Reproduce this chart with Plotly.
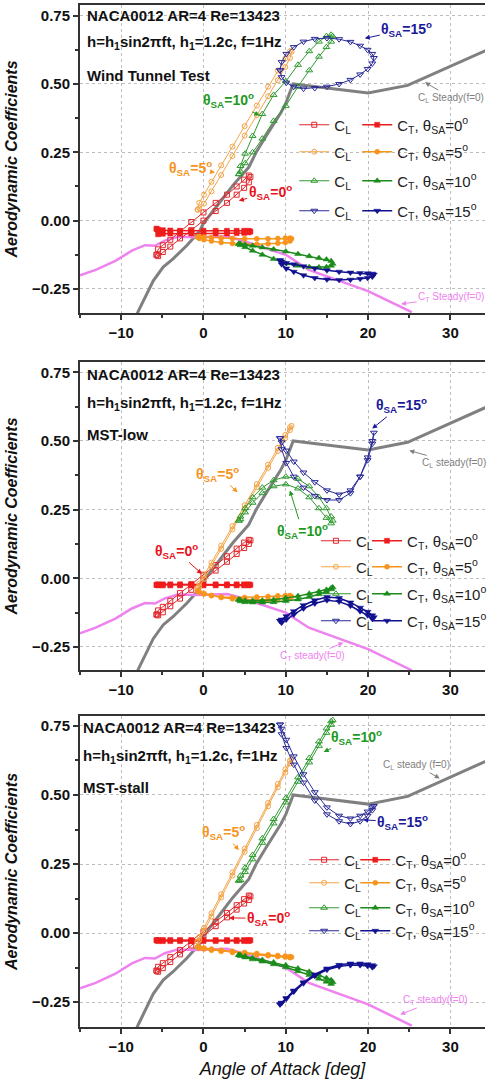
import plotly.graph_objects as go

FONT = "Liberation Sans, Arial, Helvetica, sans-serif"

# ---------------- data ----------------
# effective angle of attack samples over one plunging cycle, per static angle
aoa_0 = [-5.70, -5.51, -4.94, -4.03, -2.85, -1.48, 0.00, 1.48, 2.85, 4.03, 4.94, 5.51, 5.70,
         5.51, 4.94, 4.03, 2.85, 1.48, 0.00, -1.48, -2.85, -4.03, -4.94, -5.51, -5.70]
aoa_5 = [-0.70, -0.51, 0.06, 0.97, 2.15, 3.52, 5.00, 6.48, 7.85, 9.03, 9.94, 10.51, 10.70,
         10.51, 9.94, 9.03, 7.85, 6.48, 5.00, 3.52, 2.15, 0.97, 0.06, -0.51, -0.70]
aoa_10 = [4.30, 4.49, 5.06, 5.97, 7.15, 8.52, 10.00, 11.48, 12.85, 14.03, 14.94, 15.51, 15.70,
          15.51, 14.94, 14.03, 12.85, 11.48, 10.00, 8.52, 7.15, 5.97, 5.06, 4.49, 4.30]
aoa_15 = [9.30, 9.49, 10.06, 10.97, 12.15, 13.52, 15.00, 16.48, 17.85, 19.03, 19.94, 20.51, 20.70,
          20.51, 19.94, 19.03, 17.85, 16.48, 15.00, 13.52, 12.15, 10.97, 10.06, 9.49, 9.30]

# Panel 1: Wind Tunnel Test
cl_wt_0 = [-0.125, -0.105, -0.090, -0.070, -0.040, -0.005, 0.030, 0.065, 0.095, 0.125, 0.150, 0.165, 0.160,
           0.140, 0.120, 0.095, 0.065, 0.035, 0.000, -0.035, -0.065, -0.095, -0.115, -0.130, -0.125]
ct_wt_0 = [-0.030, -0.033, -0.035, -0.036, -0.037, -0.037, -0.037, -0.037, -0.037, -0.037, -0.037, -0.037, -0.040,
           -0.043, -0.045, -0.046, -0.047, -0.047, -0.047, -0.047, -0.047, -0.047, -0.048, -0.050, -0.030]
cl_wt_5 = [0.040, 0.065, 0.095, 0.142, 0.202, 0.271, 0.346, 0.421, 0.490, 0.549, 0.594, 0.620, 0.618,
           0.595, 0.562, 0.514, 0.455, 0.386, 0.311, 0.236, 0.167, 0.107, 0.062, 0.045, 0.040]
ct_wt_5 = [-0.060, -0.058, -0.060, -0.062, -0.064, -0.065, -0.066, -0.066, -0.066, -0.065, -0.064, -0.064, -0.066,
           -0.075, -0.080, -0.083, -0.085, -0.086, -0.086, -0.084, -0.080, -0.075, -0.070, -0.065, -0.060]
cl_wt_10 = [0.170, 0.200, 0.245, 0.310, 0.390, 0.460, 0.510, 0.570, 0.620, 0.655, 0.675, 0.680, 0.675,
            0.655, 0.635, 0.600, 0.550, 0.490, 0.420, 0.365, 0.300, 0.250, 0.210, 0.180, 0.170]
ct_wt_10 = [-0.085, -0.085, -0.088, -0.092, -0.098, -0.105, -0.113, -0.122, -0.130, -0.137, -0.142, -0.148, -0.158,
            -0.165, -0.170, -0.171, -0.170, -0.165, -0.157, -0.140, -0.125, -0.110, -0.097, -0.090, -0.085]
cl_wt_15 = [0.550, 0.580, 0.610, 0.635, 0.655, 0.665, 0.668, 0.664, 0.654, 0.640, 0.625, 0.610, 0.595,
            0.575, 0.555, 0.535, 0.515, 0.500, 0.490, 0.485, 0.483, 0.490, 0.505, 0.525, 0.550]
ct_wt_15 = [-0.145, -0.150, -0.155, -0.160, -0.167, -0.175, -0.182, -0.187, -0.190, -0.192, -0.193, -0.194, -0.197,
            -0.205, -0.210, -0.213, -0.216, -0.217, -0.215, -0.210, -0.200, -0.187, -0.175, -0.160, -0.145]

# Panel 2: MST-low
cl_low_0 = [-0.132, -0.117, -0.104, -0.082, -0.054, -0.022, 0.013, 0.048, 0.080, 0.108, 0.130, 0.140, 0.138,
            0.125, 0.110, 0.088, 0.060, 0.028, -0.007, -0.042, -0.074, -0.102, -0.124, -0.135, -0.132]
ct_low_0 = [-0.024, -0.022, -0.022, -0.022, -0.022, -0.022, -0.022, -0.022, -0.022, -0.022, -0.022, -0.022, -0.024,
            -0.026, -0.026, -0.026, -0.026, -0.026, -0.026, -0.026, -0.026, -0.026, -0.026, -0.026, -0.024]
cl_low_5 = [-0.035, -0.019, 0.010, 0.057, 0.119, 0.190, 0.266, 0.343, 0.414, 0.475, 0.522, 0.550, 0.555,
            0.540, 0.510, 0.463, 0.402, 0.331, 0.254, 0.178, 0.107, 0.045, -0.002, -0.031, -0.035]
ct_low_5 = [-0.046, -0.050, -0.057, -0.063, -0.068, -0.070, -0.070, -0.068, -0.066, -0.064, -0.063, -0.063, -0.066,
            -0.070, -0.073, -0.076, -0.078, -0.078, -0.077, -0.075, -0.070, -0.063, -0.055, -0.050, -0.046]
cl_low_10 = [0.210, 0.225, 0.255, 0.295, 0.330, 0.357, 0.370, 0.362, 0.335, 0.295, 0.255, 0.225, 0.210,
             0.200, 0.220, 0.255, 0.295, 0.327, 0.342, 0.335, 0.310, 0.275, 0.240, 0.215, 0.210]
ct_low_10 = [-0.078, -0.080, -0.081, -0.082, -0.081, -0.078, -0.072, -0.065, -0.056, -0.048, -0.042, -0.036, -0.033,
             -0.040, -0.050, -0.058, -0.068, -0.077, -0.083, -0.087, -0.088, -0.088, -0.087, -0.084, -0.078]
cl_low_15 = [0.510, 0.495, 0.465, 0.425, 0.385, 0.350, 0.320, 0.305, 0.320, 0.370, 0.430, 0.490, 0.530,
             0.500, 0.440, 0.370, 0.310, 0.285, 0.285, 0.300, 0.330, 0.370, 0.420, 0.470, 0.510]
ct_low_15 = [-0.155, -0.150, -0.138, -0.120, -0.098, -0.080, -0.068, -0.072, -0.088, -0.107, -0.122, -0.135, -0.142,
             -0.148, -0.135, -0.120, -0.100, -0.085, -0.080, -0.092, -0.110, -0.132, -0.150, -0.162, -0.155]

# Panel 3: MST-stall
cl_st_0 = [-0.136, -0.122, -0.109, -0.087, -0.061, -0.029, 0.006, 0.041, 0.073, 0.101, 0.123, 0.136, 0.133,
           0.120, 0.107, 0.085, 0.057, 0.025, -0.010, -0.045, -0.077, -0.105, -0.127, -0.140, -0.136]
ct_st_0 = [-0.026, -0.025, -0.025, -0.025, -0.025, -0.025, -0.025, -0.025, -0.025, -0.025, -0.025, -0.025, -0.026,
           -0.029, -0.029, -0.029, -0.029, -0.029, -0.029, -0.029, -0.029, -0.029, -0.029, -0.029, -0.026]
cl_st_5 = [-0.031, -0.014, 0.019, 0.072, 0.141, 0.220, 0.306, 0.392, 0.471, 0.540, 0.593, 0.624, 0.631,
           0.614, 0.581, 0.528, 0.459, 0.380, 0.294, 0.208, 0.129, 0.060, 0.007, -0.026, -0.031]
ct_st_5 = [-0.050, -0.051, -0.054, -0.058, -0.062, -0.066, -0.070, -0.074, -0.078, -0.081, -0.083, -0.085, -0.087,
           -0.089, -0.087, -0.085, -0.082, -0.078, -0.074, -0.070, -0.066, -0.062, -0.058, -0.054, -0.050]
cl_st_10 = [0.190, 0.208, 0.237, 0.283, 0.343, 0.413, 0.489, 0.564, 0.634, 0.694, 0.741, 0.767, 0.771,
            0.754, 0.725, 0.678, 0.618, 0.548, 0.473, 0.397, 0.327, 0.267, 0.221, 0.192, 0.190]
ct_st_10 = [-0.079, -0.080, -0.084, -0.090, -0.097, -0.106, -0.116, -0.128, -0.140, -0.152, -0.163, -0.170, -0.178,
            -0.184, -0.176, -0.165, -0.152, -0.138, -0.124, -0.113, -0.103, -0.095, -0.088, -0.083, -0.079]
cl_st_15 = [0.755, 0.740, 0.700, 0.640, 0.575, 0.510, 0.455, 0.425, 0.415, 0.425, 0.440, 0.455, 0.460,
            0.445, 0.425, 0.405, 0.395, 0.405, 0.430, 0.480, 0.545, 0.610, 0.670, 0.720, 0.755]
ct_st_15 = [-0.258, -0.252, -0.235, -0.208, -0.178, -0.150, -0.128, -0.115, -0.110, -0.110, -0.113, -0.116, -0.120,
            -0.124, -0.119, -0.116, -0.116, -0.121, -0.133, -0.155, -0.182, -0.212, -0.238, -0.253, -0.258]

# steady (f=0) curves
steady_aoa_cl = [-8.5, -7.9, -6.1, -4.9, -3.7, -2.0, -0.5, 0.0, 1.8, 3.6, 5.5, 6.4, 7.4, 8.5, 9.4,
                 10.0, 10.9, 13.7, 20.0, 24.8, 36.0]
steady_cl = [-0.37, -0.33, -0.22, -0.17, -0.14, -0.09, -0.04, -0.01, 0.06, 0.13, 0.195, 0.25, 0.30, 0.35,
             0.395, 0.43, 0.50, 0.49, 0.467, 0.495, 0.645]
steady_aoa_ct = [-15.0, -13.1, -10.7, -8.7, -7.1, -5.9, -4.7, -3.1, -0.7, 2.9, 4.4, 7.0, 10.0, 12.8,
                 16.0, 20.0, 25.3]
steady_ct = [-0.200, -0.180, -0.147, -0.110, -0.090, -0.092, -0.073, -0.059, -0.061, -0.057, -0.070,
             -0.095, -0.125, -0.180, -0.215, -0.258, -0.335]

theta_labels = ["0", "5", "10", "15"]
x_ticks = [-10, 0, 10, 20, 30]
y_ticks = [-0.25, 0.00, 0.25, 0.50, 0.75]
panel_titles = ["Wind Tunnel Test", "MST-low", "MST-stall"]

# ---------------- styling / layout ----------------
aoa_sets = [aoa_0, aoa_5, aoa_10, aoa_15]
cl_sets = [[cl_wt_0, cl_wt_5, cl_wt_10, cl_wt_15],
           [cl_low_0, cl_low_5, cl_low_10, cl_low_15],
           [cl_st_0, cl_st_5, cl_st_10, cl_st_15]]
ct_sets = [[ct_wt_0, ct_wt_5, ct_wt_10, ct_wt_15],
           [ct_low_0, ct_low_5, ct_low_10, ct_low_15],
           [ct_st_0, ct_st_5, ct_st_10, ct_st_15]]

cl_colors = ["#e0262b", "#f3a447", "#2f9a2f", "#2a2a98"]
ct_colors = ["#ee1c1c", "#f7941d", "#1b8c1b", "#111190"]
ann_colors = ["#e8141c", "#f7941d", "#1e9a1e", "#1a1a9a"]
cl_symbols = ["square-open", "circle-open", "triangle-up-open", "triangle-down-open"]
ct_symbols = ["square", "circle", "triangle-up", "triangle-down"]
cl_sizes = [5, 5, 6, 6]
ct_sizes = [5, 5, 6, 6]
GRAY = "#808080"
PINK = "#ee82ee"

W, H = 492, 1085
PL, PR = 80, 492
PT, PB = 5, 1027
PW, PH = PR - PL, PB - PT

panel_px = [(5, 313), (362, 670), (716, 1027)]
y_ranges = [[-0.338, 0.789], [-0.334, 0.7875], [-0.34, 0.786]]
x_range = [-15, 34.2]

legend_rows_px = [[125, 152, 181, 211], [541, 567, 594, 621], [860, 883, 908, 931]]
legend_cols_px = [[298, 362], [320, 372], [308, 360]]

text_lines_px = [[16, 43, 75], [375, 404, 435], [727, 756, 787]]
text_left_px = [85, 85, 81]

fig = go.Figure()
layout_updates = {}
annotations = []

def ax_names(p):
    if p == 0:
        return "x", "y", "xaxis", "yaxis"
    return f"x{p+1}", f"y{p+1}", f"xaxis{p+1}", f"yaxis{p+1}"

leg_n = 0
for p in range(3):
    xa, ya, xk, yk = ax_names(p)
    # steady curves
    fig.add_trace(go.Scatter(x=steady_aoa_cl, y=steady_cl, mode="lines",
                             line=dict(color=GRAY, width=3), showlegend=False,
                             xaxis=xa, yaxis=ya, hoverinfo="skip"))
    fig.add_trace(go.Scatter(x=steady_aoa_ct, y=steady_ct, mode="lines",
                             line=dict(color=PINK, width=2.5), showlegend=False,
                             xaxis=xa, yaxis=ya, hoverinfo="skip"))
    for k in range(4):
        for kind in ("CL", "CT"):
            leg_n += 1
            lname = "legend" if leg_n == 1 else f"legend{leg_n}"
            if kind == "CL":
                yv = cl_sets[p][k]
                name = "C<sub>L</sub>"
                col = cl_colors[k]
                mk = dict(symbol=cl_symbols[k], size=cl_sizes[k], color=col, line=dict(width=1, color=col))
                ln = dict(color=col, width=1)
                cx = legend_cols_px[p][0]
            else:
                yv = ct_sets[p][k]
                name = f"C<sub>T</sub>, θ<sub>SA</sub>={theta_labels[k]}<sup>o</sup>"
                col = ct_colors[k]
                mk = dict(symbol=ct_symbols[k], size=ct_sizes[k], color=col, line=dict(width=0.5, color=col))
                ln = dict(color=col, width=1.5)
                cx = legend_cols_px[p][1]
            fig.add_trace(go.Scatter(x=aoa_sets[k], y=yv, mode="lines+markers",
                                     line=ln, marker=mk, name=name, legend=lname,
                                     xaxis=xa, yaxis=ya))
            layout_updates[lname] = dict(
                x=(cx - PL) / PW, y=(PB - legend_rows_px[p][k]) / PH,
                xanchor="left", yanchor="middle", bgcolor="rgba(0,0,0,0)",
                borderwidth=0, font=dict(family=FONT, size=15, color="#222"),
                itemwidth=30, tracegroupgap=0)

    top_px, bot_px = panel_px[p]
    dom = [(PB - bot_px) / PH, (PB - top_px) / PH]
    layout_updates[xk] = dict(
        domain=[0, 1], anchor=ya, range=x_range, tickmode="array", tickvals=x_ticks,
        ticks="outside", ticklen=5, tickwidth=1.5, tickcolor="#333",
        minor=dict(dtick=5, tick0=0, ticks="outside", ticklen=3, tickwidth=1.5,
                   tickcolor="#333", showgrid=False),
        showline=True, linewidth=2, linecolor="#333", mirror=True,
        showgrid=True, gridcolor="#bdbdbd", griddash="dot", gridwidth=1, zeroline=False,
        tickfont=dict(family=FONT, size=15, color="#111", weight="bold"))
    if p == 2:
        layout_updates[xk]["title"] = dict(text="<i>Angle of Attack [deg]</i>",
                                           font=dict(family=FONT, size=18, color="#111"),
                                           standoff=8)
    layout_updates[yk] = dict(
        domain=dom, anchor=xa, range=y_ranges[p], tickmode="array", tickvals=y_ticks,
        tickformat=".2f", ticks="outside", ticklen=5, tickwidth=1.5, tickcolor="#333",
        minor=dict(dtick=0.125, tick0=0, ticks="outside", ticklen=3, tickwidth=1.5,
                   tickcolor="#333", showgrid=False),
        showline=True, linewidth=2, linecolor="#333",
        showgrid=True, gridcolor="#bdbdbd", griddash="dot", gridwidth=1, zeroline=False,
        tickfont=dict(family=FONT, size=15, color="#111", weight="bold"),
        title=dict(text="<b><i>Aerodynamic Coefficients</i></b>",
                   font=dict(family=FONT, size=16, color="#111"), standoff=10))

    # header text
    header = ["NACA0012 AR=4 Re=13423",
              "h=h<sub>1</sub>sin2πft, h<sub>1</sub>=1.2c, f=1Hz",
              panel_titles[p]]
    for i, txt in enumerate(header):
        annotations.append(dict(
            text=f"<b>{txt}</b>", xref=f"{xa} domain", yref=f"{ya} domain",
            x=(text_left_px[p] - PL) / PW,
            y=1 - (text_lines_px[p][i] - top_px) / (bot_px - top_px),
            xanchor="left", yanchor="middle", showarrow=False,
            font=dict(family=FONT, size=15, color="#111")))

# arrow labels: (panel, text, color, tip_x, tip_y, text_x, text_y, size)
def theta_txt(t):
    return f"<b>θ<sub>SA</sub>={t}<sup>o</sup></b>"

arrow_labels = [
    (0, theta_txt("15"), ann_colors[3], 19.6, 0.667, 24.7, 0.70, 14),
    (0, theta_txt("10"), ann_colors[2], 6.8, 0.385, 3.1, 0.44, 14),
    (0, theta_txt("5"), ann_colors[1], 1.4, 0.176, -1.6, 0.194, 14),
    (0, theta_txt("0"), ann_colors[0], 4.3, 0.073, 8.1, 0.105, 14),
    (0, "C<sub>L</sub> Steady(f=0)", GRAY, 26.9, 0.506, 30.1, 0.45, 10),
    (0, "C<sub>T</sub> Steady(f=0)", PINK, 24.0, -0.305, 30.1, -0.28, 10),
    (1, theta_txt("5"), ann_colors[1], 4.15, 0.313, 1.7, 0.38, 14),
    (1, theta_txt("10"), ann_colors[2], 10.5, 0.32, 12.0, 0.173, 14),
    (1, theta_txt("0"), ann_colors[0], -0.2, 0.016, -3.3, 0.10, 14),
    (1, theta_txt("15"), ann_colors[3], 20.5, 0.545, 24.0, 0.63, 14),
    (1, "C<sub>L</sub> steady(f=0)", GRAY, 25.0, 0.465, 30.4, 0.42, 10),
    (1, "C<sub>T</sub> steady(f=0)", PINK, 17.0, -0.234, 13.2, -0.283, 10),
    (2, theta_txt("5"), ann_colors[1], 4.3, 0.30, 2.4, 0.366, 14),
    (2, theta_txt("10"), ann_colors[2], 14.6, 0.656, 18.6, 0.71, 14),
    (2, theta_txt("15"), ann_colors[3], 19.4, 0.41, 24.2, 0.402, 14),
    (2, theta_txt("0"), ann_colors[0], 3.1, 0.055, 7.9, 0.053, 14),
    (2, "C<sub>L</sub> steady (f=0)", GRAY, 28.7, 0.56, 25.9, 0.608, 10),
    (2, "C<sub>T</sub> steady(f=0)", PINK, 23.9, -0.295, 28.2, -0.244, 10),
]
for (p, txt, col, tx, ty, lx, ly, sz) in arrow_labels:
    xa, ya, _, _ = ax_names(p)
    annotations.append(dict(
        text=txt, x=tx, y=ty, ax=lx, ay=ly, xref=xa, yref=ya, axref=xa, ayref=ya,
        showarrow=True, arrowhead=2, arrowsize=1, arrowwidth=1, arrowcolor=col,
        standoff=0, font=dict(family=FONT, size=sz, color=col)))

fig.update_layout(
    width=W, height=H,
    margin=dict(l=PL, r=W - PR, t=PT, b=H - PB, pad=0),
    paper_bgcolor="white", plot_bgcolor="white",
    font=dict(family=FONT, color="#111"),
    annotations=annotations,
    **layout_updates)

# remove the browser's default page margin so the figure sits at the window origin
fig.write_html("out.html",
               config={"displayModeBar": False},
               post_script="document.body.style.margin='0';document.body.style.overflow='hidden';")
